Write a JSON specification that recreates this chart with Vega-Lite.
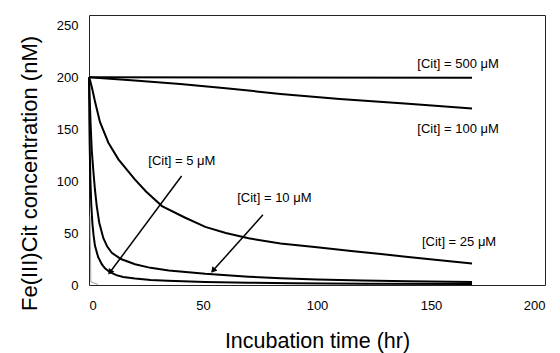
{
  "$schema": "https://vega.github.io/schema/vega-lite/v6.json",
  "width": 456,
  "height": 270,
  "autosize": "none",
  "padding": {"left": 89, "top": 15, "right": 15, "bottom": 68},
  "background": "white",
  "config": {
    "font": "Liberation Sans",
    "view": {"stroke": "#222", "strokeWidth": 1},
    "axis": {"grid": false, "ticks": false, "domain": false, "labelColor": "black", "titleColor": "black", "labelFont": "Liberation Sans", "titleFont": "Liberation Sans", "titleFontWeight": "normal", "labelFontSize": 13}
  },
  "datasets": {
    "curves": [
      {"series": "500", "t": 0, "c": 200}, {"series": "500", "t": 168, "c": 199.5},
      {"series": "100", "t": 0, "c": 200}, {"series": "100", "t": 20, "c": 197}, {"series": "100", "t": 40, "c": 193.5}, {"series": "100", "t": 60, "c": 189.5}, {"series": "100", "t": 84, "c": 184}, {"series": "100", "t": 110, "c": 179}, {"series": "100", "t": 140, "c": 174.5}, {"series": "100", "t": 168, "c": 170},
      {"series": "25", "t": 0, "c": 200}, {"series": "25", "t": 0.5, "c": 197}, {"series": "25", "t": 1.5, "c": 188}, {"series": "25", "t": 2.6, "c": 177}, {"series": "25", "t": 4.8, "c": 157}, {"series": "25", "t": 8.5, "c": 137}, {"series": "25", "t": 12.9, "c": 121}, {"series": "25", "t": 20, "c": 102}, {"series": "25", "t": 25, "c": 90}, {"series": "25", "t": 32, "c": 76}, {"series": "25", "t": 42, "c": 65}, {"series": "25", "t": 51, "c": 56}, {"series": "25", "t": 60, "c": 50}, {"series": "25", "t": 70, "c": 45}, {"series": "25", "t": 84, "c": 40}, {"series": "25", "t": 100, "c": 36.3}, {"series": "25", "t": 115, "c": 32.8}, {"series": "25", "t": 128, "c": 29.8}, {"series": "25", "t": 140, "c": 27}, {"series": "25", "t": 155, "c": 23.6}, {"series": "25", "t": 168, "c": 20.6},
      {"series": "10", "t": 0, "c": 200}, {"series": "10", "t": 0.3, "c": 180}, {"series": "10", "t": 0.7, "c": 155}, {"series": "10", "t": 1.2, "c": 130}, {"series": "10", "t": 1.9, "c": 110}, {"series": "10", "t": 2.6, "c": 92}, {"series": "10", "t": 3.4, "c": 76}, {"series": "10", "t": 4.5, "c": 60}, {"series": "10", "t": 6.3, "c": 45}, {"series": "10", "t": 8, "c": 37}, {"series": "10", "t": 10, "c": 31}, {"series": "10", "t": 14, "c": 25}, {"series": "10", "t": 20.2, "c": 20}, {"series": "10", "t": 27, "c": 16.5}, {"series": "10", "t": 35, "c": 14}, {"series": "10", "t": 51, "c": 10.8}, {"series": "10", "t": 70, "c": 8}, {"series": "10", "t": 84, "c": 6.5}, {"series": "10", "t": 100, "c": 5.3}, {"series": "10", "t": 120, "c": 4.3}, {"series": "10", "t": 140, "c": 3.5}, {"series": "10", "t": 168, "c": 2.8},
      {"series": "5", "t": 0, "c": 200}, {"series": "5", "t": 0.15, "c": 160}, {"series": "5", "t": 0.3, "c": 135}, {"series": "5", "t": 0.6, "c": 102}, {"series": "5", "t": 1, "c": 77}, {"series": "5", "t": 1.5, "c": 59}, {"series": "5", "t": 2, "c": 48}, {"series": "5", "t": 2.6, "c": 38}, {"series": "5", "t": 4, "c": 27}, {"series": "5", "t": 5.6, "c": 20}, {"series": "5", "t": 7, "c": 16}, {"series": "5", "t": 9.2, "c": 12.3}, {"series": "5", "t": 12, "c": 9.5}, {"series": "5", "t": 15, "c": 7.8}, {"series": "5", "t": 20.2, "c": 6.2}, {"series": "5", "t": 27, "c": 4.8}, {"series": "5", "t": 34.6, "c": 4}, {"series": "5", "t": 51, "c": 3}, {"series": "5", "t": 70, "c": 2.2}, {"series": "5", "t": 90, "c": 1.7}, {"series": "5", "t": 120, "c": 1.3}, {"series": "5", "t": 168, "c": 0.9}
    ],
    "faint": [
      {"t": 0.5, "c": 66}, {"t": 0.8, "c": 3}, {"t": 4, "c": 0.5}
    ],
    "labels": [
      {"label": "[Cit] = 500 μM", "t": 144, "c": 213},
      {"label": "[Cit] = 100 μM", "t": 144, "c": 150},
      {"label": "[Cit] = 25 μM", "t": 146, "c": 41.7},
      {"label": "[Cit] = 10 μM", "t": 65, "c": 83.3},
      {"label": "[Cit] = 5 μM", "t": 26, "c": 119}
    ],
    "arrows": [
      {"arrow": "a5", "t": 40.6, "c": 104.9, "tip": false}, {"arrow": "a5", "t": 9.2, "c": 12.3, "tip": true},
      {"arrow": "a10", "t": 76.3, "c": 67.6, "tip": false}, {"arrow": "a10", "t": 54.4, "c": 13.9, "tip": true}
    ]
  },
  "layer": [
    {
      "data": {"name": "faint"},
      "mark": {"type": "line", "stroke": "#a0a0a0", "strokeWidth": 1},
      "encoding": {
        "x": {"field": "t", "type": "quantitative", "scale": {"domain": [0, 200]}, "axis": {"values": [0, 50, 100, 150, 200], "labelPadding": 14, "title": "Incubation time (hr)", "titleFontSize": 21.5, "titleBaseline": "top", "titleY": 45}},
        "y": {"field": "c", "type": "quantitative", "scale": {"domain": [0, 250]}, "axis": {"values": [0, 50, 100, 150, 200, 250], "labelPadding": 11, "title": "Fe(III)Cit concentration (nM)", "titleFontSize": 22, "titleAngle": -90, "titleBaseline": "alphabetic", "titleAlign": "center", "titleX": -53, "titleY": 158}}
      }
    },
    {
      "data": {"name": "curves"},
      "mark": {"type": "line", "stroke": "black", "strokeWidth": 2},
      "encoding": {
        "x": {"field": "t", "type": "quantitative"},
        "y": {"field": "c", "type": "quantitative"},
        "detail": {"field": "series"}
      }
    },
    {
      "data": {"name": "arrows"},
      "mark": {"type": "line", "stroke": "black", "strokeWidth": 1.5},
      "encoding": {
        "x": {"field": "t", "type": "quantitative"},
        "y": {"field": "c", "type": "quantitative"},
        "detail": {"field": "arrow"}
      }
    },
    {
      "data": {"name": "arrows"},
      "transform": [{"filter": "datum.tip && datum.arrow === 'a5'"}],
      "mark": {"type": "point", "shape": "triangle-up", "filled": true, "color": "black", "size": 45, "angle": 215.6, "opacity": 1},
      "encoding": {
        "x": {"field": "t", "type": "quantitative"},
        "y": {"field": "c", "type": "quantitative"}
      }
    },
    {
      "data": {"name": "arrows"},
      "transform": [{"filter": "datum.tip && datum.arrow === 'a10'"}],
      "mark": {"type": "point", "shape": "triangle-up", "filled": true, "color": "black", "size": 45, "angle": 220.8, "opacity": 1},
      "encoding": {
        "x": {"field": "t", "type": "quantitative"},
        "y": {"field": "c", "type": "quantitative"}
      }
    },
    {
      "data": {"name": "labels"},
      "mark": {"type": "text", "align": "left", "baseline": "middle", "fontSize": 13, "color": "black", "font": "Liberation Sans"},
      "encoding": {
        "x": {"field": "t", "type": "quantitative"},
        "y": {"field": "c", "type": "quantitative"},
        "text": {"field": "label"}
      }
    }
  ]
}
